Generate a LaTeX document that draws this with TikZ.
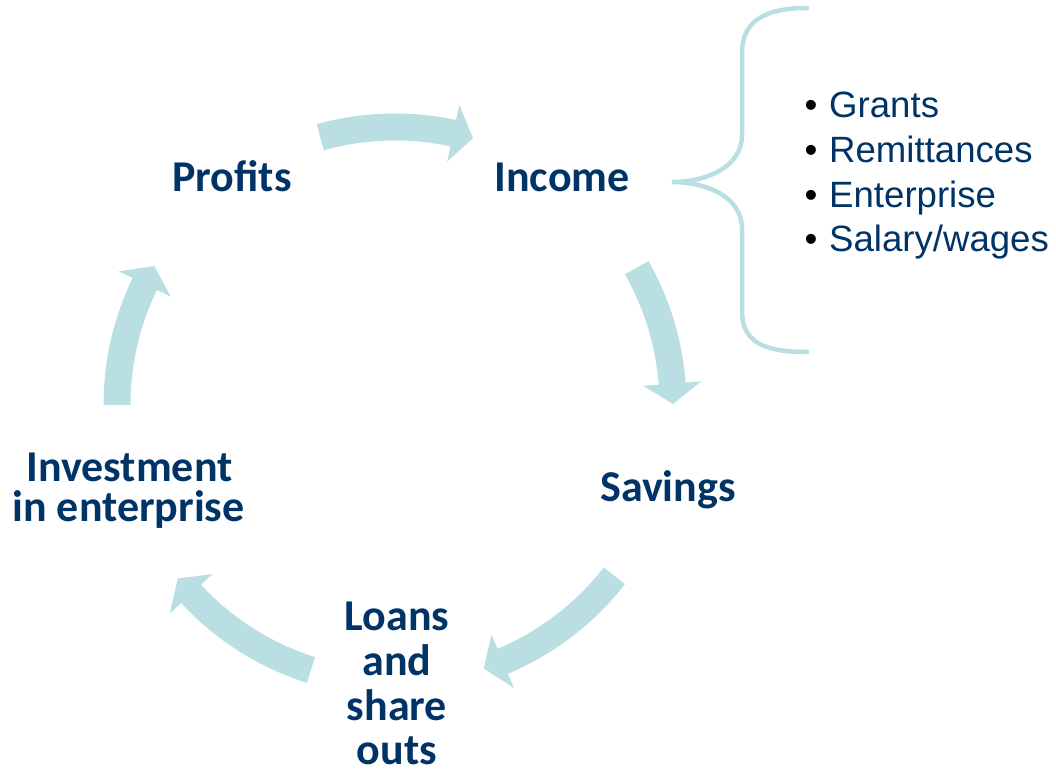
\documentclass[tikz,border=0pt]{standalone}
\usepackage{fontspec}
\setmainfont{Liberation Sans}
\newfontfamily\labfont{Carlito}
\definecolor{arrowc}{HTML}{B9DFE2}
\definecolor{txtc}{HTML}{003366}
\newcommand{\cycarrow}[3]{% tail angle, head base angle, tip angle
  \fill[arrowc] (#1:291.5pt) arc[start angle=#1, end angle=#2, radius=291.5pt]
    -- (#2:307pt) -- (#3:278pt) -- (#2:249pt) -- (#2:264.5pt)
    arc[start angle=#2, end angle=#1, radius=264.5pt] -- cycle;}
\begin{document}
\begin{tikzpicture}[x=1pt,y=1pt,
  lab/.style={font=\labfont\bfseries\fontsize{44}{46}\selectfont, text=txtc, inner sep=0pt, anchor=base},
  item/.style={font=\fontsize{36.6}{44}\selectfont, text=txtc, inner sep=0pt, anchor=base west},
  bul/.style={font=\fontsize{36.6}{44}\selectfont, text=black, inner sep=0pt, anchor=base}]
\useasboundingbox (0,0) rectangle (1056,771);
\begin{scope}[shift={(395,366)}]
\cycarrow{105.6}{77.9}{73.7}
\cycarrow{29.6}{4.4}{0.2}
\cycarrow{-37.9}{-67.2}{-71.4}
\cycarrow{-107.6}{-137.2}{-141.4}
\cycarrow{-180}{-205.8}{-210}
\end{scope}
\node[lab] (profits) at (232,579) {Profits};
\node[lab] (income) at (562,579) {Income};
\node[lab] (savings) at (668,269) {Savings};
\node[lab] (inv1) at (129.5,289) {Investment};
\node[lab] (inv2) at (128.5,249) {in enterprise};
\node[lab] (loan1) at (397,141) {Loans};
\node[lab] (loan2) at (397,96) {and};
\node[lab] (loan3) at (397,51) {share};
\node[lab] (loan4) at (397,7) {outs};
% brace
\draw[arrowc, line width=4.5pt, line cap=round]
  (807,763) .. controls (762,763) and (742,748) .. (742,718)
  -- (742,636) .. controls (742,603) and (705,589) .. (672,589)
  .. controls (705,589) and (742,575) .. (742,542)
  -- (742,460) .. controls (742,430) and (762,419) .. (807,419);
\node[bul] (b1) at (811,653) {•};
\node[bul] (b2) at (811,608) {•};
\node[bul] (b3) at (811,563) {•};
\node[bul] (b4) at (811,519) {•};
\node[item] (i1) at (829,653) {Grants};
\node[item] (i2) at (829,608) {Remittances};
\node[item] (i3) at (829,563) {Enterprise};
\node[item] (i4) at (829,519) {Salary/wages};
\end{tikzpicture}
\end{document}
